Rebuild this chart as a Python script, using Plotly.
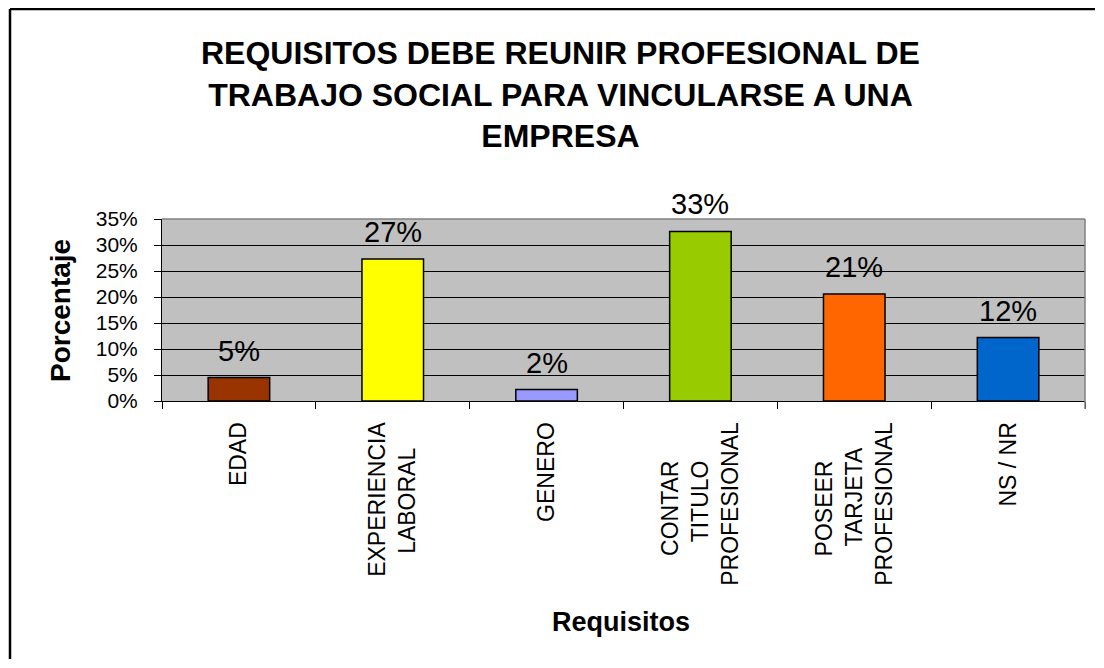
import plotly.graph_objects as go

# data
categories = ["EDAD", "EXPERIENCIA LABORAL", "GENERO", "CONTAR TITULO PROFESIONAL",
              "POSEER TARJETA PROFESIONAL", "NS / NR"]
tick_lines = [["EDAD"], ["EXPERIENCIA", "LABORAL"], ["GENERO"],
              ["CONTAR", "TITULO", "PROFESIONAL"], ["POSEER", "TARJETA", "PROFESIONAL"],
              ["NS / NR"]]
values = [4.5, 27.3, 2.2, 32.6, 20.6, 12.2]
value_labels = ["5%", "27%", "2%", "33%", "21%", "12%"]
bar_colors = ["#993300", "#FFFF00", "#9999FF", "#99CC00", "#FF6600", "#0066CC"]
y_ticks = [0, 5, 10, 15, 20, 25, 30, 35]
y_tick_text = ["0%", "5%", "10%", "15%", "20%", "25%", "30%", "35%"]

# the page body adds an 8px margin on every side; keep the figure inside the window
OFF = 8
W, H = 1104 - 2 * OFF, 668 - 2 * OFF
# plot area on the page: x 162..1085, y 219..401
L, R, T, B = 162 - OFF, W - (1085 - OFF), 219 - OFF, H - (401 - OFF)
FONT = "Liberation Sans, Arial, sans-serif"


def px_x(x):
    # page pixel -> paper x
    return (x - OFF - L) / (W - L - R)


def px_y(y):
    # page pixel -> paper y
    return (H - B - (y - OFF)) / (H - T - B)


def centered_label(lines):
    # pad shorter lines so the rotated lines look centred like the original
    longest = max(len(s) for s in lines)
    out = []
    for s in lines:
        pad = round(1.1 * (longest - len(s)))
        out.append(s + "\u00a0" * pad)
    return "<br>".join(out)


tick_text = [centered_label(t) for t in tick_lines]

fig = go.Figure()
fig.add_trace(go.Bar(
    x=categories,
    y=values,
    marker=dict(color=bar_colors, line=dict(color="black", width=1.5)),
    width=0.4,
    hoverinfo="x+y",
    cliponaxis=False,
))

for c, v, t in zip(categories, values, value_labels):
    fig.add_annotation(x=c, y=v, text=t, showarrow=False, yanchor="bottom", yshift=9,
                       font=dict(family=FONT, size=29, color="black"))

fig.update_layout(
    width=W, height=H,
    autosize=False,
    margin=dict(l=L, r=R, t=T, b=B, pad=0),
    paper_bgcolor="white",
    plot_bgcolor="#C0C0C0",
    font=dict(family=FONT, color="black"),
    showlegend=False,
    xaxis=dict(
        tickmode="array", tickvals=categories, ticktext=tick_text,
        tickangle=-90, tickson="boundaries",
        ticks="outside", ticklen=7, tickcolor="black",
        showline=True, linecolor="black", linewidth=1,
        showgrid=False,
        tickfont=dict(family=FONT, size=23, color="black"),
        ticklabelstandoff=11,
        range=[-0.5, 5.5],
    ),
    yaxis=dict(
        range=[0, 35], tickmode="array", tickvals=y_ticks, ticktext=y_tick_text,
        ticks="outside", ticklen=7, tickcolor="black",
        showline=True, linecolor="black", linewidth=1,
        showgrid=True, gridcolor="black", gridwidth=1,
        zeroline=False,
        tickfont=dict(family=FONT, size=21, color="black"),
        ticklabelstandoff=12,
    ),
)

# chart title
fig.add_annotation(
    x=px_x(560), y=px_y(94), xref="paper", yref="paper",
    text="<b>REQUISITOS DEBE REUNIR PROFESIONAL DE<br>TRABAJO SOCIAL PARA VINCULARSE A UNA<br>EMPRESA</b>",
    showarrow=False, xanchor="center", yanchor="middle",
    font=dict(family=FONT, size=32, color="black"),
)

# axis titles
fig.add_annotation(x=px_x(60), y=px_y(311), xref="paper", yref="paper", text="<b>Porcentaje</b>",
                   textangle=-90, showarrow=False, xanchor="center", yanchor="middle",
                   font=dict(family=FONT, size=28, color="black"))
fig.add_annotation(x=px_x(621), y=px_y(622), xref="paper", yref="paper", text="<b>Requisitos</b>",
                   showarrow=False, xanchor="center", yanchor="middle",
                   font=dict(family=FONT, size=27, color="black"))

# grey plot border on top and right
fig.add_shape(type="line", xref="paper", yref="paper", x0=0, x1=1, y0=1, y1=1,
              line=dict(color="#808080", width=1.5))
fig.add_shape(type="line", xref="paper", yref="paper", x0=1, x1=1, y0=px_y(409), y1=1,
              line=dict(color="#808080", width=1.5))

# outer chart frame (top and left edges), kept inside the figure
fig.add_shape(type="line", xref="paper", yref="paper", x0=px_x(10), x1=px_x(OFF + W - 1),
              y0=px_y(9), y1=px_y(9), line=dict(color="black", width=2.5))
fig.add_shape(type="line", xref="paper", yref="paper", x0=px_x(10), x1=px_x(10),
              y0=px_y(9), y1=px_y(OFF + H - 1), line=dict(color="black", width=2.5))

fig.write_html("out.html")
